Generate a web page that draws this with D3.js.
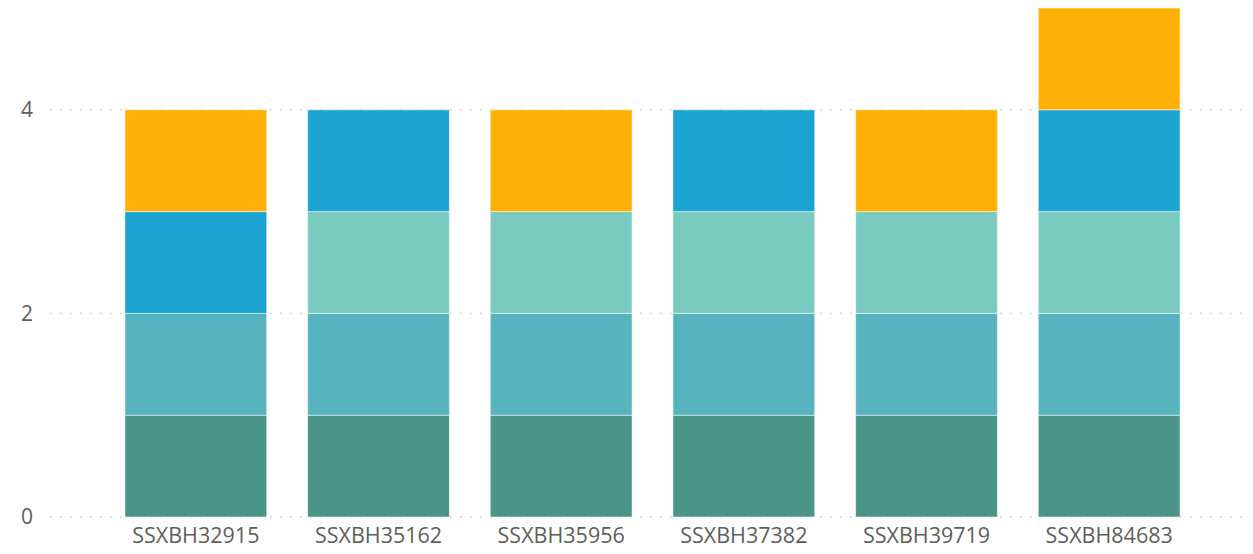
<!DOCTYPE html>
<html>
<head>
<meta charset="utf-8">
<script src="https://cdn.jsdelivr.net/npm/d3@7"></script>
<style>
  body { margin: 0; background: #fff; }
  .tick text { font-family: "Open Sans", sans-serif; fill: #605E5C; }
</style>
</head>
<body>
<div id="chart_area"></div>
<script>
// Data.
var categories = ["SSXBH32915", "SSXBH35162", "SSXBH35956", "SSXBH37382", "SSXBH39719", "SSXBH84683"];
var series_names = ["A", "B", "C", "D", "E"];
var series_a = [1, 1, 1, 1, 1, 1];
var series_b = [1, 1, 1, 1, 1, 1];
var series_c = [0, 1, 1, 1, 1, 1];
var series_d = [1, 1, 0, 1, 0, 1];
var series_e = [1, 0, 1, 0, 1, 1];
var y_ticks = [0, 2, 4];
var colors = ["#4A9488", "#57B4BF", "#7ACBBF", "#1BA3D2", "#FFB007"];

// Build table for the stack.
var all_series = [series_a, series_b, series_c, series_d, series_e];
var table = categories.map(function(cat, i) {
	var row = { cat: cat };
	series_names.forEach(function(s, j) { row[s] = all_series[j][i]; });
	return row;
});

var frame_width = 1253, frame_height = 554;
var frame = d3.select("#chart_area").append("svg")
	.attr("width", frame_width)
	.attr("height", frame_height);

// Scales
var xScale = d3.scaleBand()
	.domain(categories)
	.range([104.5, 1200.5])
	.paddingInner(0.224)
	.paddingOuter(0.112);

var yScale = d3.scaleLinear().domain([0, 4]).range([517, 109.8]);
var colorScale = d3.scaleOrdinal().domain(series_names).range(colors);

// Dotted gridlines
frame.append("g")
	.selectAll("line")
	.data(y_ticks)
	.enter().append("line")
	.attr("x1", 50).attr("x2", 1248)
	.attr("y1", function(d) { return yScale(d); })
	.attr("y2", function(d) { return yScale(d); })
	.attr("stroke", "#c8c8c8")
	.attr("stroke-width", 1.5)
	.attr("stroke-dasharray", "1.5,8.5");

// Y axis (labels only)
var yAxis = d3.axisLeft(yScale).tickValues(y_ticks).tickFormat(d3.format("d")).tickSize(0).tickPadding(0);
var gy = frame.append("g")
	.attr("transform", "translate(33,0)")
	.call(yAxis);
gy.select(".domain").remove();
gy.selectAll("text").style("font-size", "21px");

// Stacked bars
var stack = d3.stack().keys(series_names);
var layers = stack(table);

frame.append("g")
	.selectAll("g")
	.data(layers)
	.enter().append("g")
	.attr("fill", function(d) { return colorScale(d.key); })
	.selectAll("rect")
	.data(function(d) { return d.filter(function(p) { return p[1] > p[0]; }); })
	.enter().append("rect")
	.attr("x", function(d) { return xScale(d.data.cat); })
	.attr("y", function(d) { return yScale(d[1]); })
	.attr("width", xScale.bandwidth())
	.attr("height", function(d) { return yScale(d[0]) - yScale(d[1]); })
	.attr("stroke", "rgba(255,255,255,0.5)")
	.attr("stroke-width", 1);

// X axis (labels only)
var xAxis = d3.axisBottom(xScale).tickSize(0).tickPadding(0);
var gx = frame.append("g")
	.attr("transform", "translate(0,528)")
	.call(xAxis);
gx.select(".domain").remove();
gx.selectAll("text").style("font-size", "21.5px");
</script>
</body>
</html>
